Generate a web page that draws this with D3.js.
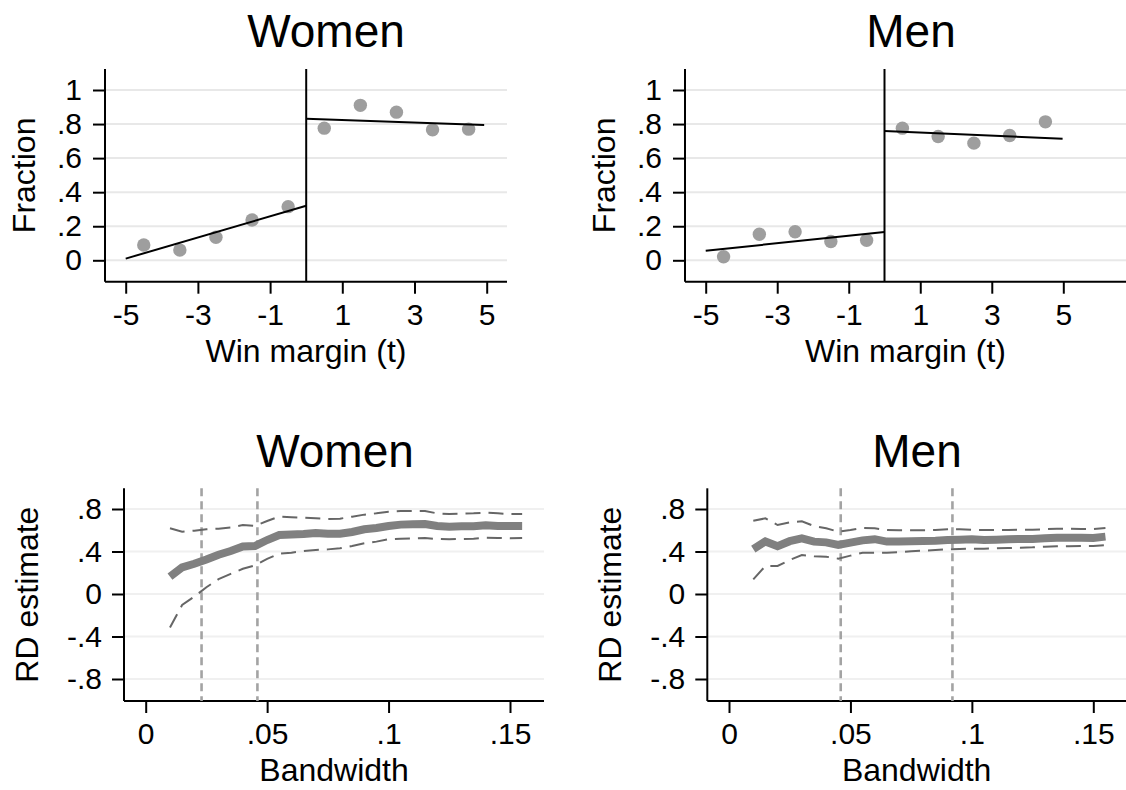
<!DOCTYPE html>
<html><head><meta charset="utf-8">
<script src="https://cdn.jsdelivr.net/npm/d3@7"></script>
<style>body{margin:0;background:#fff}svg{display:block}text{font-family:"Liberation Sans",Arial,sans-serif;fill:#000}</style>
</head><body>
<script>
// ---------- DATA ----------
const binX = [-4.5, -3.5, -2.5, -1.5, -0.5, 0.5, 1.5, 2.5, 3.5, 4.5];
const womenBins = [0.09, 0.06, 0.135, 0.237, 0.315, 0.776, 0.91, 0.87, 0.766, 0.77];
const menBins = [0.021, 0.153, 0.168, 0.11, 0.118, 0.776, 0.727, 0.688, 0.733, 0.813];
const womenFitLeft = [[-5, 0.01], [0, 0.32]];
const womenFitRight = [[0, 0.831], [4.93, 0.794]];
const menFitLeft = [[-5, 0.056], [0, 0.166]];
const menFitRight = [[0, 0.759], [4.98, 0.714]];
const topXTicks = [-5, -3, -1, 1, 3, 5];
const topYTicks = [0, 0.2, 0.4, 0.6, 0.8, 1];

const bandwidths = [0.01,0.015,0.02,0.025,0.03,0.035,0.04,0.045,0.05,0.055,0.06,0.065,0.07,0.075,0.08,0.085,0.09,0.095,0.1,0.105,0.11,0.115,0.12,0.125,0.13,0.135,0.14,0.145,0.15,0.155];
const womenRD = [0.163,0.25,0.285,0.325,0.37,0.405,0.448,0.452,0.508,0.555,0.56,0.565,0.574,0.568,0.568,0.584,0.609,0.621,0.64,0.653,0.656,0.659,0.64,0.634,0.637,0.637,0.646,0.64,0.64,0.64];
const womenHi = [0.618,0.587,0.596,0.609,0.615,0.627,0.649,0.64,0.687,0.728,0.722,0.718,0.712,0.706,0.709,0.728,0.747,0.759,0.775,0.781,0.781,0.781,0.759,0.753,0.756,0.759,0.765,0.759,0.753,0.753];
const womenLo = [-0.315,-0.104,-0.025,0.064,0.14,0.19,0.237,0.27,0.33,0.38,0.389,0.405,0.414,0.42,0.43,0.452,0.477,0.493,0.515,0.521,0.524,0.527,0.518,0.515,0.518,0.521,0.53,0.527,0.524,0.527];
const menRD = [0.422,0.495,0.45,0.497,0.524,0.493,0.486,0.461,0.483,0.505,0.516,0.493,0.493,0.496,0.499,0.502,0.508,0.511,0.515,0.508,0.511,0.515,0.518,0.518,0.524,0.53,0.53,0.53,0.527,0.54];
const menHi = [0.69,0.712,0.649,0.675,0.684,0.64,0.618,0.587,0.602,0.621,0.618,0.602,0.599,0.599,0.599,0.602,0.609,0.609,0.605,0.602,0.602,0.602,0.605,0.605,0.609,0.615,0.615,0.612,0.612,0.621];
const menLo = [0.138,0.264,0.264,0.32,0.367,0.355,0.351,0.333,0.361,0.389,0.389,0.389,0.395,0.402,0.408,0.414,0.42,0.424,0.427,0.427,0.43,0.433,0.436,0.439,0.445,0.449,0.449,0.452,0.452,0.461];
const womenOptBW = [0.023, 0.046];
const menOptBW = [0.046, 0.092];
const botXTicks = [0, 0.05, 0.1, 0.15];
const botYTicks = [-0.8, -0.4, 0, 0.4, 0.8];

// ---------- DRAW ----------
const W = 1126, H = 790;
const svg = d3.select("body").append("svg").attr("width", W).attr("height", H);
const fmt = v => { if (v === 0) return "0"; let s = String(+v.toFixed(3)); return s.replace(/^0\./, ".").replace(/^-0\./, "-."); };

function panel(cfg) {
  const g = svg.append("g");
  const x = d3.scaleLinear().domain(cfg.xd).range(cfg.xr);
  const y = d3.scaleLinear().domain(cfg.yd).range(cfg.yr);
  const [bx0, bx1] = cfg.bx, [by0, by1] = cfg.by;
  // gridlines
  g.selectAll(".grid").data(cfg.yTicks).join("line")
    .attr("x1", bx0).attr("x2", bx1).attr("y1", d => y(d)).attr("y2", d => y(d))
    .attr("stroke", cfg.gridColor).attr("stroke-width", 2);
  // y axis
  const ya = g.append("g").attr("transform", `translate(${bx0},0)`)
    .call(d3.axisLeft(y).tickValues(cfg.yTicks).tickFormat(fmt).tickSize(12).tickPadding(cfg.yPad));
  ya.select(".domain").remove();
  ya.append("line").attr("x1", 0).attr("x2", 0).attr("y1", by0).attr("y2", by1).attr("stroke", "#000").attr("stroke-width", 2);
  ya.selectAll(".tick line").attr("stroke", "#000").attr("stroke-width", 2);
  ya.selectAll(".tick text").attr("font-size", 30).attr("fill", "#000").style("font-family", '"Liberation Sans",Arial,sans-serif');
  // x axis
  const xa = g.append("g").attr("transform", `translate(0,${by1})`)
    .call(d3.axisBottom(x).tickValues(cfg.xTicks).tickFormat(fmt).tickSize(12).tickPadding(10));
  xa.select(".domain").remove();
  xa.append("line").attr("x1", bx0).attr("x2", bx1).attr("y1", 0).attr("y2", 0).attr("stroke", "#000").attr("stroke-width", 2);
  xa.selectAll(".tick line").attr("stroke", "#000").attr("stroke-width", 2);
  xa.selectAll(".tick text").attr("font-size", 30).attr("fill", "#000").style("font-family", '"Liberation Sans",Arial,sans-serif');
  // titles
  g.append("text").attr("x", cfg.titleX).attr("y", cfg.titleY).attr("text-anchor", "middle").attr("font-size", 46).text(cfg.title);
  g.append("text").attr("x", (bx0 + bx1) / 2).attr("y", by1 + 80).attr("text-anchor", "middle").attr("font-size", 32).text(cfg.xTitle);
  g.append("text").attr("transform", `translate(${bx0 + cfg.yTitleOff},${(by0 + by1) / 2}) rotate(-90)`)
    .attr("text-anchor", "middle").attr("font-size", 32).text(cfg.yTitle);
  return { g, x, y };
}

function topPanel(cfg, bins, fitL, fitR) {
  const { g, x, y } = panel(cfg);
  g.append("line").attr("x1", x(0)).attr("x2", x(0)).attr("y1", cfg.by[0]).attr("y2", cfg.by[1]).attr("stroke", "#000").attr("stroke-width", 2);
  g.selectAll(".pt").data(binX).join("circle")
    .attr("cx", d => x(d)).attr("cy", (d, i) => y(bins[i])).attr("r", 6.7).attr("fill", "#9e9e9e");
  const ln = d3.line().x(d => x(d[0])).y(d => y(d[1]));
  [fitL, fitR].forEach(f => g.append("path").attr("d", ln(f)).attr("fill", "none").attr("stroke", "#000").attr("stroke-width", 2));
}

function botPanel(cfg, rd, hi, lo, opt) {
  const { g, x, y } = panel(cfg);
  g.selectAll(".opt").data(opt).join("line")
    .attr("x1", d => x(d)).attr("x2", d => x(d)).attr("y1", cfg.by[0]).attr("y2", cfg.by[1])
    .attr("stroke", "#a3a3a3").attr("stroke-width", 2.6).attr("stroke-dasharray", "8,5");
  const ln = arr => d3.line().x((d, i) => x(bandwidths[i])).y(d => y(d))(arr);
  [hi, lo].forEach(a => g.append("path").attr("d", ln(a)).attr("fill", "none")
    .attr("stroke", "#666").attr("stroke-width", 2).attr("stroke-dasharray", "15,8"));
  g.append("path").attr("d", ln(rd)).attr("fill", "none").attr("stroke", "#808080").attr("stroke-width", 8).attr("stroke-linejoin", "miter");
}

const topCommon = { xd: [-5, 5], yd: [0, 1], yr: [260.3, 90], by: [69, 281.7], xTicks: topXTicks, yTicks: topYTicks,
  gridColor: "#e8e8e8", xTitle: "Win margin (t)", yTitle: "Fraction", yPad: 11, yTitleOff: -70, titleY: 47 };
topPanel(Object.assign({}, topCommon, { xr: [125.7, 486.7], bx: [105, 507], title: "Women", titleX: 326 }), womenBins, womenFitLeft, womenFitRight);
topPanel(Object.assign({}, topCommon, { xr: [705.7, 1063.3], bx: [685, 1126], title: "Men", titleX: 911 }), menBins, menFitLeft, menFitRight);

const botCommon = { xd: [0, 0.15], yd: [0, 0.8], yr: [594, 509], by: [488.3, 701], xTicks: botXTicks, yTicks: botYTicks,
  gridColor: "#f0f0f0", xTitle: "Bandwidth", yTitle: "RD estimate", yPad: 10, yTitleOff: -86, titleY: 467 };
botPanel(Object.assign({}, botCommon, { xr: [145.7, 510], bx: [124, 544], title: "Women", titleX: 335 }), womenRD, womenHi, womenLo, womenOptBW);
botPanel(Object.assign({}, botCommon, { xr: [729, 1093.3], bx: [707.3, 1126], title: "Men", titleX: 917 }), menRD, menHi, menLo, menOptBW);
</script>
</body></html>
